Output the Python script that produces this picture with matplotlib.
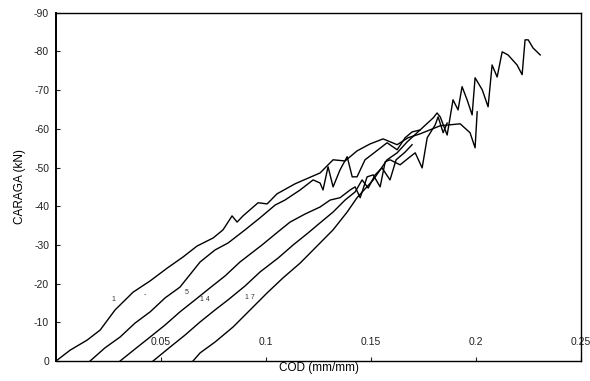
import matplotlib
matplotlib.use("Agg")
import matplotlib.pyplot as plt

plt.rcParams['font.family'] = ['Liberation Sans', 'DejaVu Sans']

# COD (mm/mm) and load (kN, compression shown as negative) for the five specimens
cod_1 = [0.000, 0.0067, 0.0148, 0.0210, 0.0281, 0.0367, 0.0448, 0.0529, 0.0605, 0.0671,
         0.0748, 0.0795, 0.0838, 0.0862, 0.0890, 0.0962, 0.1005, 0.1052, 0.1138, 0.1257,
         0.1319, 0.1376, 0.1433, 0.1495, 0.1557, 0.1624, 0.1676, 0.1733, 0.1829, 0.1924,
         0.1971, 0.1995, 0.2005]
load_1 = [0.0, 2.8, 5.4, 8.0, 13.2, 17.8, 20.7, 24.0, 26.9, 29.7,
          31.8, 33.9, 37.5, 35.9, 37.5, 40.9, 40.6, 43.2, 45.8, 48.6,
          52.0, 51.7, 54.3, 56.1, 57.4, 55.9, 57.7, 58.7, 60.8, 61.3,
          59.0, 55.1, 64.4]

cod_2 = [0.0162, 0.0233, 0.0305, 0.0376, 0.0448, 0.0519, 0.0590, 0.0686, 0.0757, 0.0819,
         0.0900, 0.0971, 0.1043, 0.1090, 0.1162, 0.1224, 0.1257, 0.1271, 0.1295, 0.1319,
         0.1352, 0.1386, 0.1410, 0.1433, 0.1471, 0.1519, 0.1576, 0.1624, 0.1662, 0.1695,
         0.1733]
load_2 = [0.0, 3.4, 6.2, 9.8, 12.7, 16.3, 19.1, 25.6, 28.7, 30.5,
          33.9, 37.0, 40.3, 41.6, 44.2, 46.8, 46.0, 44.2, 50.2, 45.0,
          49.4, 52.8, 47.6, 47.6, 52.0, 54.0, 56.4, 54.6, 57.7, 59.2,
          59.7]

cod_3 = [0.0305, 0.0376, 0.0448, 0.0519, 0.0590, 0.0662, 0.0733, 0.0805, 0.0876, 0.0981,
         0.1057, 0.1114, 0.1186, 0.1257, 0.1305, 0.1352, 0.1400, 0.1424, 0.1448, 0.1481,
         0.1510, 0.1543, 0.1567, 0.1590, 0.1638, 0.1686, 0.1710, 0.1743, 0.1767, 0.1805,
         0.1819, 0.1843, 0.1862]
load_3 = [0.0, 3.1, 6.2, 9.3, 12.7, 15.8, 18.9, 22.0, 25.6, 30.0,
          33.4, 35.9, 38.0, 39.8, 41.6, 42.2, 44.2, 45.0, 42.2, 47.6,
          48.1, 45.0, 51.5, 52.0, 50.7, 52.8, 53.8, 49.9, 57.7, 61.0,
          63.1, 59.0, 61.5]

cod_4 = [0.0462, 0.0543, 0.0614, 0.0686, 0.0757, 0.0819, 0.0900, 0.0971, 0.1057, 0.1129,
         0.1200, 0.1257, 0.1319, 0.1376, 0.1424, 0.1457, 0.1486, 0.1519, 0.1552, 0.1590,
         0.1619, 0.1662, 0.1695]
load_4 = [0.0, 3.6, 6.7, 10.1, 13.2, 15.8, 19.4, 23.0, 26.6, 30.0,
          33.1, 35.7, 38.5, 41.6, 43.7, 46.8, 44.7, 48.1, 49.9, 46.8,
          52.0, 54.0, 55.9]

cod_5 = [0.0652, 0.0686, 0.0757, 0.0843, 0.0924, 0.1005, 0.1081, 0.1162, 0.1257, 0.1319,
         0.1386, 0.1433, 0.1510, 0.1576, 0.1624, 0.1671, 0.1733, 0.1795, 0.1814, 0.1829,
         0.1862, 0.1890, 0.1914, 0.1933, 0.1957, 0.1981, 0.1995, 0.2029, 0.2057, 0.2076,
         0.2100, 0.2124, 0.2152, 0.2195, 0.2219, 0.2233, 0.2248, 0.2271, 0.2305]
load_5 = [0.0, 2.1, 4.9, 8.8, 13.2, 17.6, 21.5, 25.3, 30.5, 33.9,
          38.5, 42.2, 46.8, 52.0, 53.8, 56.6, 59.7, 62.8, 64.1, 63.1,
          58.4, 67.5, 64.9, 70.9, 67.5, 63.6, 73.2, 70.1, 65.7, 76.5,
          73.4, 79.9, 79.1, 76.5, 74.0, 83.0, 83.0, 80.9, 79.1]

x_ticks = [0.05, 0.1, 0.15, 0.2, 0.25]
x_tick_labels = ['0.05', '0.1', '0.15', '0.2', '0.25']
y_ticks = [0, 10, 20, 30, 40, 50, 60, 70, 80, 90]
y_tick_labels = ['0', '-10', '-20', '-30', '-40', '-50', '-60', '-70', '-80', '-90']

# faint specimen marks near the lower part of the curves
mark_text = ['1', '-', '5', '1 4', '1 7']
mark_x = [0.0271, 0.0424, 0.0624, 0.0710, 0.0924]
mark_y = [16.0, 17.1, 17.6, 16.0, 16.3]

fig = plt.figure(figsize=(5.9, 3.81), dpi=100)
ax = fig.add_axes([0.095, 0.0525, 0.890, 0.914])

for xs, ys in [(cod_1, load_1), (cod_2, load_2), (cod_3, load_3),
               (cod_4, load_4), (cod_5, load_5)]:
    ax.plot(xs, ys, color='black', lw=1.0)

for t, mx, my in zip(mark_text, mark_x, mark_y):
    ax.text(mx, my, t, fontsize=5, color='#333333', ha='center', va='center')

ax.set_xlim(0, 0.25)
ax.set_ylim(0, 90)
ax.set_xticks(x_ticks)
ax.set_xticklabels(x_tick_labels)
ax.set_yticks(y_ticks)
ax.set_yticklabels(y_tick_labels)
ax.tick_params(axis='x', direction='in', length=3, pad=-17, labelsize=7.5, colors='#222222')
ax.tick_params(axis='y', direction='in', length=3, pad=5, labelsize=7.5, colors='#222222')

for s in ax.spines.values():
    s.set_color('black')
    s.set_linewidth(1.0)
ax.spines['left'].set_linewidth(1.4)

ax.set_xlabel('COD (mm/mm)', fontsize=8.5, labelpad=1)
ax.set_ylabel('CARAGA (kN)', fontsize=8.5, labelpad=6)

fig.savefig('out.png', dpi=100)
